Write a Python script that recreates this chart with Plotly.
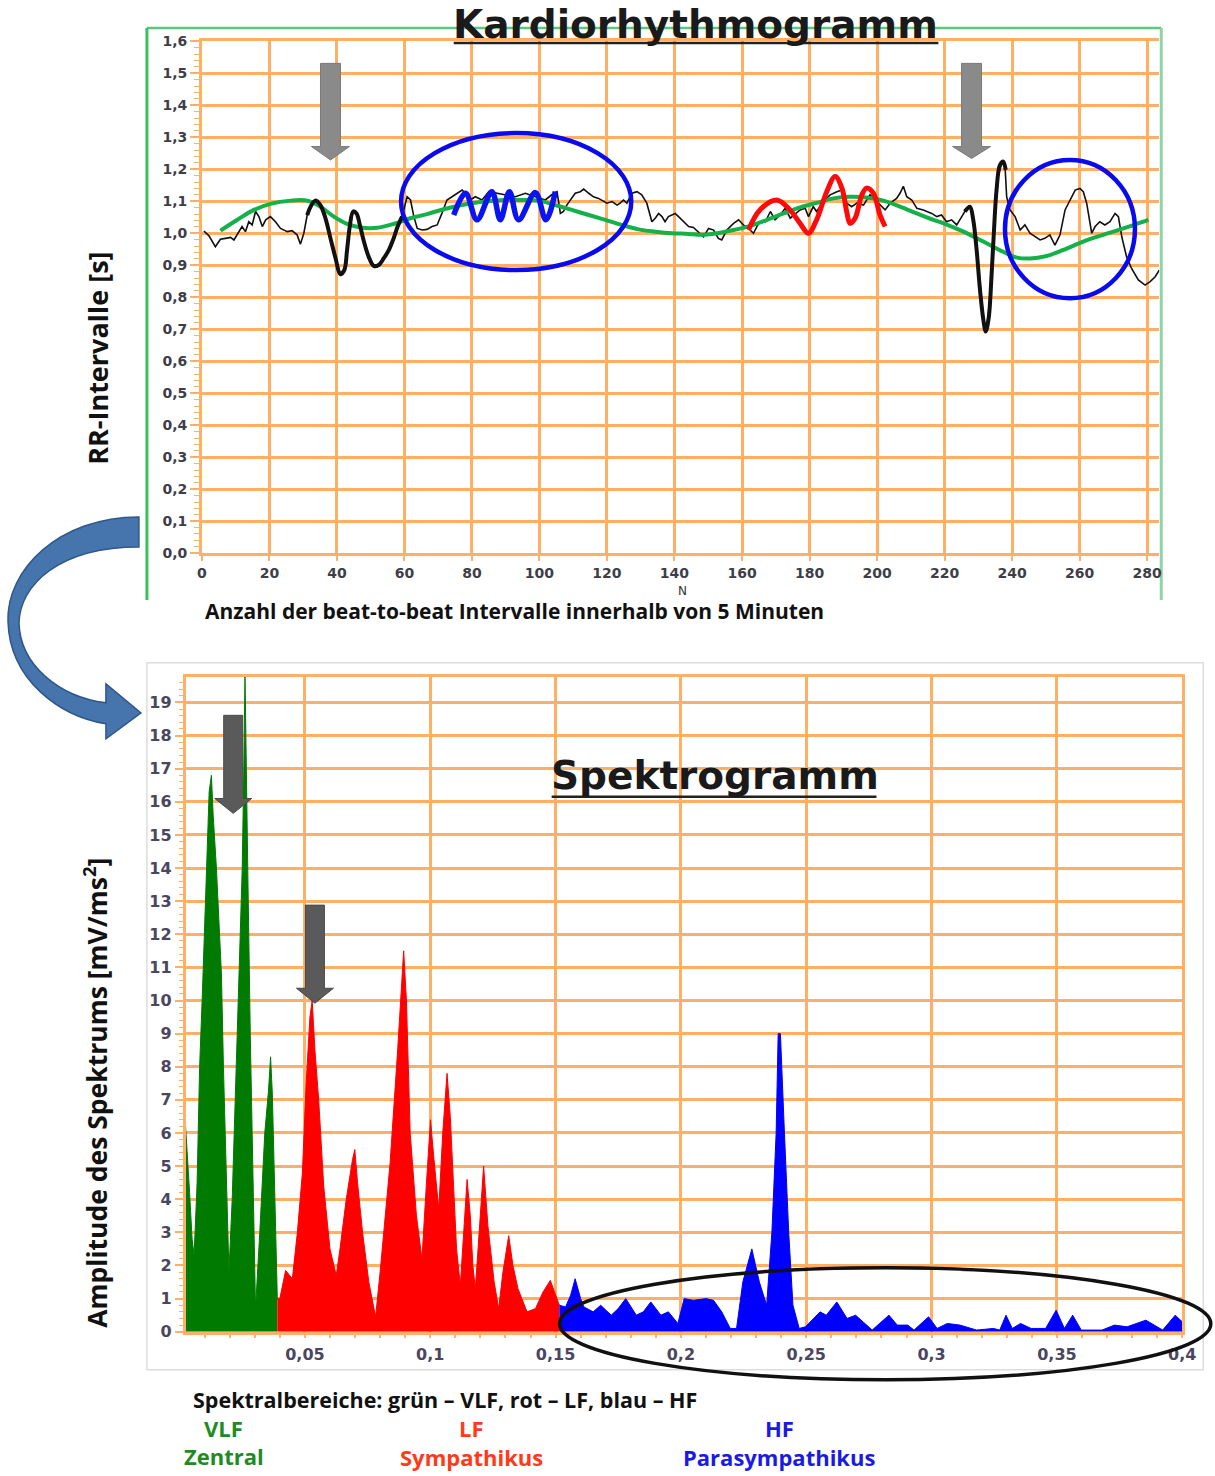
import plotly.graph_objects as go

W, H = 1215, 1476
# the page shows the figure inset by the body margin and slightly reduced;
# layout positions below are given in final page pixels and mapped through this
OX, SX = 6.0, 0.985
OY, SY = 8.0, 0.988

# ---------------- Kardiorhythmogramm (RR intervals) ----------------
RR_N = [0.6, 2.1, 4.0, 5.5, 7.0, 8.5, 9.5, 10.5, 11.9, 12.9, 13.9, 14.9, 15.9, 16.9, 17.9, 18.9,
        20.3, 21.8, 23.3, 25.3, 26.7, 28.2, 29.2, 30.2, 31.2, 32.2, 33.6, 35.1, 36.6, 38.1, 39.6,
        41.0, 42.2, 43.0, 43.8, 44.8, 45.8, 46.8, 48.0, 49.4, 50.9, 52.4, 53.9, 55.4, 56.8, 58.0,
        59.3, 60.8, 61.8, 62.8, 63.8, 65.3, 66.7, 68.2, 69.7, 71.1, 72.6, 74.1, 75.6, 77.1, 78.1,
        79.5, 81.0, 83.0, 85.0, 87.4, 89.9, 92.9, 95.8, 98.8, 101.7, 104.2, 105.2, 106.2, 107.1,
        108.1, 109.1, 110.6, 112.1, 113.1, 114.6, 116.0, 117.5, 119.0, 120.0, 121.5, 123.0, 123.9,
        124.9, 125.9, 127.4, 128.9, 130.3, 131.8, 133.3, 134.3, 135.3, 136.3, 137.2, 138.2, 139.2,
        140.2, 141.2, 142.6, 144.2, 145.6, 147.1, 148.6, 150.1, 151.6, 153.0, 154.0, 155.5, 157.5,
        159.0, 160.4, 161.9, 163.4, 164.9, 166.9, 168.4, 169.8, 171.3, 172.8, 174.3, 175.8, 177.2,
        178.7, 179.7, 181.1, 182.1, 184.1, 186.1, 188.1, 189.6, 191.0, 192.5, 194.0, 196.0, 197.9,
        199.4, 200.9, 202.4, 203.9, 205.8, 206.8, 207.8, 208.8, 210.3, 211.8, 213.7, 216.2, 217.7,
        219.1, 220.6, 222.1, 223.6, 225.1, 226.0, 227.5, 228.5, 229.5, 230.5, 231.5, 232.2, 232.9,
        233.9, 234.9, 235.9, 236.9, 237.9, 238.4, 239.4, 240.9, 242.4, 243.8, 245.3, 246.8, 248.3,
        249.7, 251.2, 252.7, 254.2, 255.7, 257.2, 258.7, 260.1, 261.1, 262.1, 262.9, 263.6, 264.6,
        266.0, 267.5, 269.0, 270.5, 271.5, 272.5, 273.9, 275.4, 277.4, 279.4, 280.9, 282.4, 283.6]
RR_S = [1.007, 0.992, 0.958, 0.981, 0.984, 0.987, 0.979, 0.995, 1.021, 1.005, 1.036, 1.026, 1.068,
        1.052, 1.021, 1.042, 1.052, 1.036, 1.015, 1.005, 1.008, 0.995, 0.966, 1.000, 1.057, 1.083,
        1.099, 1.088, 1.047, 0.984, 0.922, 0.875, 0.888, 0.947, 1.020, 1.066, 1.060, 1.026, 0.974,
        0.927, 0.900, 0.903, 0.922, 0.948, 0.984, 1.021, 1.052, 1.114, 1.104, 1.052, 1.015, 1.010,
        1.012, 1.021, 1.026, 1.062, 1.104, 1.114, 1.125, 1.135, 1.125, 1.104, 1.114, 1.104, 1.130,
        1.125, 1.120, 1.114, 1.125, 1.114, 1.104, 1.125, 1.130, 1.062, 1.068, 1.088, 1.104, 1.125,
        1.130, 1.138, 1.125, 1.114, 1.109, 1.099, 1.094, 1.099, 1.088, 1.094, 1.104, 1.094, 1.125,
        1.130, 1.120, 1.094, 1.036, 1.047, 1.062, 1.052, 1.036, 1.052, 1.057, 1.062, 1.052, 1.036,
        1.021, 1.018, 1.005, 0.989, 1.015, 1.010, 0.984, 0.979, 1.010, 1.031, 1.042, 1.026, 1.015,
        1.000, 1.031, 1.036, 1.068, 1.042, 1.057, 1.078, 1.047, 1.062, 1.073, 1.078, 1.052, 1.083,
        1.068, 1.099, 1.120, 1.130, 1.135, 1.094, 1.083, 1.094, 1.088, 1.120, 1.104, 1.088, 1.073,
        1.094, 1.109, 1.125, 1.147, 1.114, 1.104, 1.078, 1.073, 1.062, 1.052, 1.057, 1.036, 1.042,
        1.026, 1.052, 1.068, 1.083, 1.052, 0.958, 0.842, 0.737, 0.690, 0.737, 0.864, 1.052, 1.177,
        1.221, 1.213, 1.114, 1.073, 1.052, 1.010, 1.026, 1.000, 0.989, 0.979, 0.984, 0.995, 0.963,
        0.995, 1.073, 1.104, 1.135, 1.140, 1.130, 1.094, 1.042, 1.000, 1.021, 1.036, 1.026, 1.036,
        1.062, 1.052, 0.989, 0.927, 0.890, 0.854, 0.838, 0.849, 0.864, 0.885]

# emphasised sections of the RR series (thick black)
SWING1_N = [31.2, 32.2, 33.6, 35.1, 36.6, 38.1, 39.6, 41.0, 42.2, 43.0, 43.8, 44.8, 45.8, 46.8,
            48.0, 49.4, 50.9, 52.4, 53.9, 55.4, 56.8, 58.0, 59.3]
SWING1_S = [1.057, 1.083, 1.102, 1.088, 1.047, 0.984, 0.922, 0.872, 0.885, 0.947, 1.020, 1.068,
            1.062, 1.026, 0.974, 0.927, 0.898, 0.901, 0.922, 0.948, 0.984, 1.021, 1.052]
SWING2_N = [226.0, 227.5, 228.5, 229.5, 230.5, 231.5, 232.2, 233.1, 233.9, 234.6, 235.4, 236.4,
            237.4, 238.1]
SWING2_S = [1.068, 1.083, 1.042, 0.948, 0.823, 0.729, 0.693, 0.737, 0.864, 1.000, 1.135, 1.213,
            1.224, 1.198]

# slow trend (VLF component)
TREND_N = [5.5, 10.5, 15.4, 20.3, 26.3, 31.2, 35.1, 39.1, 43.0, 47.0, 51.9, 56.8, 61.8, 66.7,
           71.6, 80.0, 89.9, 94.8, 99.8, 104.7, 109.6, 114.6, 119.5, 124.4, 129.4, 134.3, 139.2,
           144.2, 147.6, 152.6, 157.5, 162.4, 167.4, 172.3, 177.2, 182.1, 187.1, 192.0, 196.9,
           201.9, 206.8, 211.8, 216.7, 219.7, 225.6, 231.5, 237.4, 241.4, 245.3, 250.2, 255.2,
           261.1, 267.0, 273.0, 278.9, 280.4]
TREND_S = [1.008, 1.042, 1.073, 1.092, 1.102, 1.102, 1.083, 1.052, 1.029, 1.018, 1.017, 1.029,
           1.047, 1.060, 1.075, 1.094, 1.104, 1.104, 1.102, 1.088, 1.073, 1.057, 1.042, 1.026,
           1.012, 1.005, 1.000, 0.998, 0.995, 1.000, 1.010, 1.023, 1.042, 1.062, 1.081, 1.095,
           1.109, 1.114, 1.112, 1.102, 1.083, 1.062, 1.042, 1.031, 1.005, 0.974, 0.942, 0.924,
           0.921, 0.929, 0.948, 0.974, 0.995, 1.015, 1.036, 1.042]

# fast respiratory wave (HF) and medium wave (LF)
HF_WAVE_N = [74.6, 78.1, 81.5, 85.9, 88.4, 91.1, 93.8, 98.8, 101.9, 104.7]
HF_WAVE_S = [1.057, 1.125, 1.042, 1.130, 1.042, 1.130, 1.042, 1.127, 1.042, 1.130]
LF_WAVE_N = [161.9, 165.3, 170.3, 174.2, 177.2, 179.7, 182.1, 185.1, 187.6, 189.6, 191.0, 192.0,
             193.5, 195.5, 196.9, 198.9, 200.9, 202.4]
LF_WAVE_S = [1.010, 1.073, 1.104, 1.073, 1.031, 1.000, 1.042, 1.130, 1.177, 1.141, 1.068, 1.031,
             1.047, 1.120, 1.141, 1.125, 1.057, 1.021]

TOP_X_TICKS = [0, 20, 40, 60, 80, 100, 120, 140, 160, 180, 200, 220, 240, 260, 280]
TOP_Y_TICKS = [0.0, 0.1, 0.2, 0.3, 0.4, 0.5, 0.6, 0.7, 0.8, 0.9, 1.0, 1.1, 1.2, 1.3, 1.4, 1.5, 1.6]
TOP_Y_LABELS = ["0,0", "0,1", "0,2", "0,3", "0,4", "0,5", "0,6", "0,7", "0,8", "0,9",
                "1,0", "1,1", "1,2", "1,3", "1,4", "1,5", "1,6"]

# ---------------- Spektrogramm ----------------
VLF_F = [0.0024, 0.0030, 0.0040, 0.0050, 0.0058, 0.0070, 0.0080, 0.0091, 0.0100, 0.0108, 0.0118,
         0.0127, 0.0134, 0.0147, 0.0158, 0.0167, 0.0175, 0.0185, 0.0192, 0.0197, 0.0210, 0.0225,
         0.0240, 0.0250, 0.0255, 0.0259, 0.0261, 0.0263, 0.0267, 0.0272, 0.0282, 0.0292, 0.0303,
         0.0320, 0.0340, 0.0355, 0.0363, 0.0370, 0.0380, 0.0390]
VLF_A = [6.2, 5.5, 4.2, 2.8, 2.3, 4.5, 8.0, 10.2, 12.2, 14.3, 16.3, 16.8, 15.6, 14.0, 12.3, 10.8,
         8.0, 5.0, 2.5, 1.8, 4.0, 8.0, 12.0, 14.0, 16.3, 18.8, 19.8, 18.8, 16.0, 14.0, 9.0, 5.0, 0.7,
         3.0, 6.0, 7.3, 8.3, 7.2, 4.0, 1.0]
LF_F = [0.0390, 0.0400, 0.0423, 0.0440, 0.0450, 0.0470, 0.0490, 0.0505, 0.0520, 0.0529, 0.0540,
        0.0555, 0.0575, 0.0600, 0.0625, 0.0640, 0.0665, 0.0690, 0.0699, 0.0710, 0.0730, 0.0755,
        0.0782, 0.0800, 0.0840, 0.0870, 0.0885, 0.0894, 0.0905, 0.0920, 0.0945, 0.0967, 0.0985,
        0.1001, 0.1015, 0.1034, 0.1050, 0.1067, 0.1080, 0.1090, 0.1105, 0.1120, 0.1135, 0.1147,
        0.1160, 0.1170, 0.1180, 0.1195, 0.1213, 0.1230, 0.1255, 0.1273, 0.1290, 0.1313, 0.1330,
        0.1350, 0.1386, 0.1420, 0.1450, 0.1479, 0.1500, 0.1515]
LF_A = [1.0, 1.0, 1.85, 1.7, 1.6, 3.0, 4.8, 7.5, 9.5, 10.0, 8.5, 7.0, 4.4, 2.5, 1.7, 2.5, 4.0, 5.2,
        5.5, 4.5, 3.0, 1.5, 0.45, 1.8, 5.1, 8.5, 10.5, 11.5, 10.0, 6.0, 3.5, 2.2, 4.5, 6.4, 5.2, 3.7,
        6.0, 7.8, 6.5, 5.0, 2.5, 1.4, 3.0, 4.6, 3.5, 2.0, 1.3, 3.0, 5.0, 3.2, 1.5, 0.7, 1.8, 2.9,
        2.0, 1.3, 0.6, 0.7, 1.2, 1.55, 1.1, 0.8]
HF_F = [0.1515, 0.1540, 0.1560, 0.1578, 0.1600, 0.1613, 0.1650, 0.1680, 0.1722, 0.1750, 0.1780,
        0.1822, 0.1850, 0.1880, 0.1920, 0.1950, 0.1988, 0.2013, 0.2050, 0.2100, 0.2130, 0.2163,
        0.2197, 0.2222, 0.2247, 0.2283, 0.2313, 0.2342, 0.2363, 0.2380, 0.2388, 0.2397, 0.2413,
        0.2430, 0.2447, 0.2472, 0.2497, 0.2555, 0.2580, 0.2622, 0.2663, 0.2697, 0.2763, 0.2830,
        0.2863, 0.2905, 0.2930, 0.2988, 0.3022, 0.3063, 0.3113, 0.3180, 0.3247, 0.3272, 0.3297,
        0.3322, 0.3355, 0.3397, 0.3455, 0.3497, 0.3530, 0.3563, 0.3597, 0.3680, 0.3730, 0.3780,
        0.3855, 0.3888, 0.3922, 0.3972, 0.4000]
HF_A = [0.8, 0.75, 1.1, 1.6, 1.0, 0.75, 0.6, 0.8, 0.5, 0.7, 1.0, 0.5, 0.6, 0.9, 0.5, 0.6, 0.25,
        1.0, 0.95, 1.0, 0.95, 0.6, 0.1, 0.1, 1.5, 2.5, 1.5, 0.8, 3.0, 6.0, 9.0, 9.0, 6.0, 3.0, 0.8,
        0.1, 0.15, 0.6, 0.5, 0.9, 0.4, 0.5, 0.05, 0.5, 0.2, 0.2, 0.05, 0.45, 0.1, 0.25, 0.2, 0.05,
        0.1, 0.05, 0.5, 0.1, 0.25, 0.1, 0.1, 0.65, 0.1, 0.5, 0.05, 0.05, 0.2, 0.15, 0.35, 0.2,
        0.05, 0.5, 0.3]

BOT_X_TICKS = [0.05, 0.1, 0.15, 0.2, 0.25, 0.3, 0.35, 0.4]
BOT_X_LABELS = ["0,05", "0,1", "0,15", "0,2", "0,25", "0,3", "0,35", "0,4"]
BOT_Y_TICKS = list(range(0, 20))

# ---------------- geometry (page pixels) ----------------
TOP_X_PIX, TOP_X_RANGE = (203.0, 1161.0), (0.0, 283.6)
TOP_Y_PIX, TOP_Y_RANGE = (553.3, 41.3), (0.0, 1.6)
BOT_X_PIX, BOT_X_RANGE = (186.7, 1184.0), (0.0024, 0.4)
BOT_Y_PIX, BOT_Y_RANGE = (1332.0, 676.7), (0.0, 19.78)

ORANGE = "#FFB066"
GRID_W = 2.5


def pxx(p):
    return (p - OX) / SX / W


def pxy(p):
    return 1 - (p - OY) / SY / H


def lin(v, rng, pix):
    return pix[0] + (v - rng[0]) / (rng[1] - rng[0]) * (pix[1] - pix[0])


def top_pix(n, s):
    return lin(n, TOP_X_RANGE, TOP_X_PIX), lin(s, TOP_Y_RANGE, TOP_Y_PIX)


def bot_pix(f, a):
    return lin(f, BOT_X_RANGE, BOT_X_PIX), lin(a, BOT_Y_RANGE, BOT_Y_PIX)


def pc(x, y):
    return f"{pxx(x):.5f},{pxy(y):.5f}"


def block_arrow(cx, y_top, y_head, y_tip, shaft_hw, head_hw):
    pts = [(cx - shaft_hw, y_top), (cx + shaft_hw, y_top), (cx + shaft_hw, y_head),
           (cx + head_hw, y_head), (cx, y_tip), (cx - head_hw, y_head), (cx - shaft_hw, y_head)]
    return "M " + " L ".join(pc(x, y) for x, y in pts) + " Z"


fig = go.Figure()

# RR series, trend and highlighted waves
fig.add_trace(go.Scatter(x=RR_N, y=RR_S, mode="lines", line=dict(color="#111111", width=1.6),
                         xaxis="x", yaxis="y", hoverinfo="skip"))
fig.add_trace(go.Scatter(x=TREND_N, y=TREND_S, mode="lines", line=dict(color="#14B04A", width=4, shape="spline"),
                         xaxis="x", yaxis="y", hoverinfo="skip"))
for xs, ys in ((SWING1_N, SWING1_S), (SWING2_N, SWING2_S)):
    fig.add_trace(go.Scatter(x=xs, y=ys, mode="lines", line=dict(color="#111111", width=4, shape="spline"),
                             xaxis="x", yaxis="y", hoverinfo="skip"))
fig.add_trace(go.Scatter(x=HF_WAVE_N, y=HF_WAVE_S, mode="lines",
                         line=dict(color="#0A14F0", width=5.5, shape="spline"),
                         xaxis="x", yaxis="y", hoverinfo="skip"))
fig.add_trace(go.Scatter(x=LF_WAVE_N, y=LF_WAVE_S, mode="lines",
                         line=dict(color="#FF0A0A", width=5, shape="spline"),
                         xaxis="x", yaxis="y", hoverinfo="skip"))

# spectrum bands
for xs, ys, col in ((VLF_F, VLF_A, "#007A00"), (LF_F, LF_A, "#FF0000"), (HF_F, HF_A, "#0000FF")):
    fig.add_trace(go.Scatter(x=xs, y=ys, mode="lines", fill="tozeroy", fillcolor=col,
                             line=dict(color=col, width=1), xaxis="x2", yaxis="y2", hoverinfo="skip"))

shapes = []

# frames around both panels
shapes.append(dict(type="line", xref="paper", yref="paper", x0=pxx(148), x1=pxx(1163), y0=pxy(28), y1=pxy(28),
                   line=dict(color="#5CC77D", width=2.5), layer="below"))
shapes.append(dict(type="line", xref="paper", yref="paper", x0=pxx(148), x1=pxx(148), y0=pxy(28), y1=pxy(600),
                   line=dict(color="#3CC060", width=3), layer="below"))
shapes.append(dict(type="line", xref="paper", yref="paper", x0=pxx(1163), x1=pxx(1163), y0=pxy(28), y1=pxy(600),
                   line=dict(color="#8FD4A5", width=3), layer="below"))
shapes.append(dict(type="rect", xref="paper", yref="paper", x0=pxx(148), x1=pxx(1205), y0=pxy(663), y1=pxy(1370),
                   line=dict(color="#DDDDDD", width=1.5), layer="below"))

# ellipses marking the fast waves in the RR series
ELLIPSES_TOP = [(59.0, 127.2, 0.885, 1.313), (237.9, 276.4, 0.797, 1.229)]
for x0, x1, y0, y1 in ELLIPSES_TOP:
    shapes.append(dict(type="circle", xref="x", yref="y", x0=x0, x1=x1, y0=y0, y1=y1,
                       line=dict(color="#0A0AEE", width=4.5)))

# ellipse around the HF band of the spectrum
HF_ELLIPSE = (0.1516, 0.4114, -1.45, 1.93)
ex0, ey0 = bot_pix(HF_ELLIPSE[0], HF_ELLIPSE[2])
ex1, ey1 = bot_pix(HF_ELLIPSE[1], HF_ELLIPSE[3])
shapes.append(dict(type="circle", xref="paper", yref="paper", x0=pxx(ex0), x1=pxx(ex1), y0=pxy(ey0), y1=pxy(ey1),
                   line=dict(color="#111111", width=3.5)))

# pointer arrows: (centre, top, head base, tip) in data units of each panel
TOP_ARROWS = [(38.1, 1.531, 1.271, 1.229), (228.0, 1.531, 1.271, 1.234)]
for n, s_top, s_head, s_tip in TOP_ARROWS:
    cx, yt = top_pix(n, s_top)
    _, yh = top_pix(n, s_head)
    _, yp = top_pix(n, s_tip)
    shapes.append(dict(type="path", xref="paper", yref="paper", path=block_arrow(cx, yt, yh, yp, 10, 19),
                       fillcolor="#8A8A8A", line=dict(color="#7A7A7A", width=1)))

BOT_ARROWS = [(0.0214, 18.61, 16.1, 15.65), (0.0540, 12.88, 10.37, 9.92)]
for f, a_top, a_head, a_tip in BOT_ARROWS:
    cx, yt = bot_pix(f, a_top)
    _, yh = bot_pix(f, a_head)
    _, yp = bot_pix(f, a_tip)
    shapes.append(dict(type="path", xref="paper", yref="paper", path=block_arrow(cx, yt, yh, yp, 9.5, 18.5),
                       fillcolor="#5A5A5A", line=dict(color="#4A4A4A", width=1)))

# curved arrow linking the two panels
curve = ("M " + pc(140, 517) + " C " + pc(60, 517) + " " + pc(7, 570) + " " + pc(9, 622)
         + " C " + pc(11, 680) + " " + pc(60, 716) + " " + pc(107, 724)
         + " L " + pc(107, 739) + " L " + pc(142, 713) + " L " + pc(107, 684) + " L " + pc(107, 703)
         + " C " + pc(60, 697) + " " + pc(21, 665) + " " + pc(20, 623)
         + " C " + pc(21, 585) + " " + pc(60, 547) + " " + pc(140, 547) + " Z")
shapes.append(dict(type="path", xref="paper", yref="paper", path=curve, fillcolor="#4675AE",
                   line=dict(color="#2F578A", width=1.5)))

# underlines of the two headings
for x0, x1, y in ((455, 940, 43), (553, 878, 797)):
    shapes.append(dict(type="line", xref="paper", yref="paper", x0=pxx(x0), x1=pxx(x1), y0=pxy(y), y1=pxy(y),
                       line=dict(color="#222222", width=2.5)))

LABEL_FONT = "'Open Sans', Lato, sans-serif"
TICK_FONT = "'DejaVu Sans', Verdana, sans-serif"


def note(text, x, y, size, color="#111111", family=LABEL_FONT, angle=0):
    return dict(text=text, x=pxx(x), y=pxy(y), xref="paper", yref="paper", showarrow=False,
                xanchor="center", yanchor="middle", textangle=angle,
                font=dict(family=family, size=size, color=color))


annotations = [
    note("<b>Kardiorhythmogramm</b>", 697, 25, 39, "#1A1A1A", TICK_FONT),
    note("<b>Spektrogramm</b>", 716, 776, 39, "#1A1A1A", TICK_FONT),
    note("<b>RR-Intervalle [s]</b>", 99, 358, 27, angle=-90),
    note("<b>Amplitude des Spektrums [mV/ms<sup>2</sup>]</b>", 97, 1093, 26.5, angle=-90),
    note("N", 684, 591, 12, "#333333", TICK_FONT),
    note("<b>Anzahl der beat-to-beat Intervalle innerhalb von 5 Minuten</b>", 516, 611, 21),
    note("<b>Spektralbereiche: grün – VLF, rot – LF, blau – HF</b>", 446, 1400, 21.5),
    note("<b>VLF</b>", 225, 1428, 22, "#1E8C1E"),
    note("<b>Zentral</b>", 225, 1456, 22, "#1E8C1E"),
    note("<b>LF</b>", 473, 1428, 22, "#FF3A1A"),
    note("<b>Sympathikus</b>", 473, 1457, 22, "#FF3A1A"),
    note("<b>HF</b>", 781, 1428, 22, "#1A1AE6"),
    note("<b>Parasympathikus</b>", 781, 1457, 22, "#1A1AE6"),
]

tick_top = dict(family=TICK_FONT, size=14, color="#3E3E48", weight="bold")
tick_bot = dict(family=TICK_FONT, size=16, color="#4A4660", weight="bold")

fig.update_layout(
    width=W, height=H, margin=dict(l=0, r=0, t=0, b=0),
    paper_bgcolor="white", plot_bgcolor="white", showlegend=False,
    shapes=shapes, annotations=annotations,
    xaxis=dict(domain=[pxx(TOP_X_PIX[0]), pxx(TOP_X_PIX[1])], range=list(TOP_X_RANGE), anchor="y",
               tickmode="array", tickvals=TOP_X_TICKS, ticks="outside", ticklen=5, tickcolor=ORANGE,
               tickwidth=2, showgrid=True, gridcolor=ORANGE, gridwidth=GRID_W, zeroline=False,
               showline=True, linecolor=ORANGE, linewidth=GRID_W, mirror=True, tickfont=tick_top),
    yaxis=dict(domain=[pxy(TOP_Y_PIX[0]), pxy(TOP_Y_PIX[1])], range=list(TOP_Y_RANGE), anchor="x",
               tickmode="array", tickvals=TOP_Y_TICKS, ticktext=TOP_Y_LABELS, ticks="outside",
               ticklen=9, tickcolor=ORANGE, tickwidth=2, showgrid=True, gridcolor=ORANGE,
               gridwidth=GRID_W, zeroline=False, showline=True, linecolor=ORANGE, linewidth=GRID_W,
               tickfont=tick_top,
               minor=dict(dtick=0.02, tick0=0, ticks="outside", ticklen=5, tickcolor=ORANGE, tickwidth=1,
                          showgrid=False)),
    xaxis2=dict(domain=[pxx(BOT_X_PIX[0]), pxx(BOT_X_PIX[1])], range=list(BOT_X_RANGE), anchor="y2",
                tickmode="array", tickvals=BOT_X_TICKS, ticktext=BOT_X_LABELS, ticks="outside", ticklen=6,
                tickcolor="rgba(0,0,0,0)", showgrid=True, gridcolor=ORANGE, gridwidth=GRID_W, zeroline=False,
                showline=True, linecolor=ORANGE, linewidth=GRID_W, mirror=True, tickfont=tick_bot,
                minor=dict(dtick=0.01, tick0=0, ticks="outside", ticklen=4, tickcolor="#F2B47A", tickwidth=2,
                           showgrid=False)),
    yaxis2=dict(domain=[pxy(BOT_Y_PIX[0]), pxy(BOT_Y_PIX[1])], range=list(BOT_Y_RANGE), anchor="x2",
                tickmode="array", tickvals=BOT_Y_TICKS, ticks="outside", ticklen=8, tickcolor=ORANGE,
                tickwidth=2, showgrid=True, gridcolor=ORANGE, gridwidth=GRID_W, zeroline=False,
                showline=True, linecolor=ORANGE, linewidth=GRID_W, mirror=True, tickfont=tick_bot,
                minor=dict(dtick=0.2, tick0=0, ticks="outside", ticklen=4, tickcolor=ORANGE, tickwidth=1,
                           showgrid=False)),
)

fig.write_html("out.html")
